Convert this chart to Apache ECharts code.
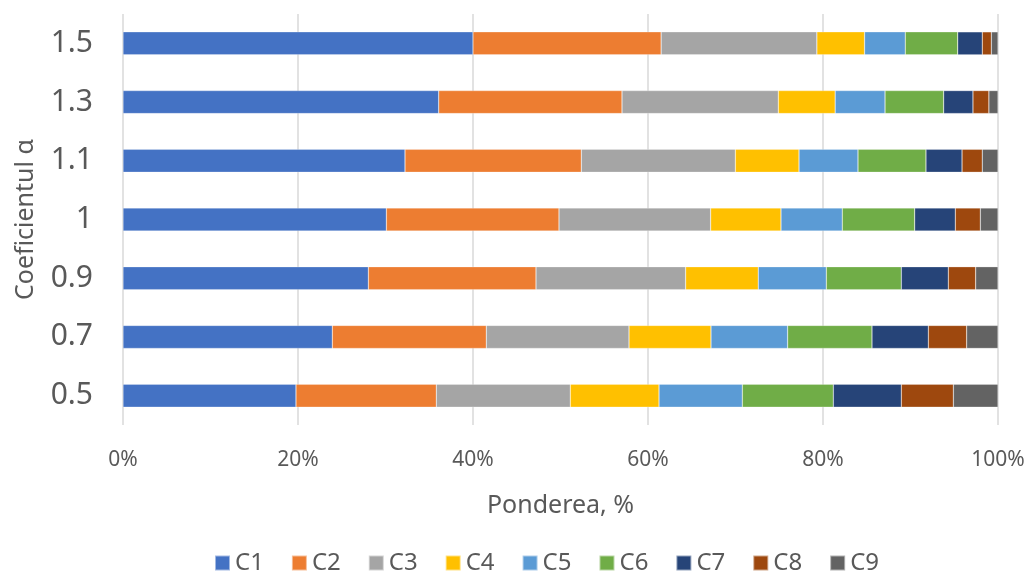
<!DOCTYPE html>
<html>
<head>
<meta charset="utf-8">
<script src="https://cdn.jsdelivr.net/npm/echarts@6/dist/echarts.min.js"></script>
<style>
    html, body { margin: 0; padding: 0; background: #fff; }
    #chart { width: 1033px; height: 574px; }
</style>
</head>
<body>
<div id="chart"></div>
<script>
// categories (bottom to top)
var alphaValues = ['0.5', '0.7', '0.9', '1', '1.1', '1.3', '1.5'];
var seriesNames = ['C1', 'C2', 'C3', 'C4', 'C5', 'C6', 'C7', 'C8', 'C9'];
// shares in %, per alpha (same order as alphaValues)
var c1 = [19.77, 23.92, 28.04, 30.10, 32.23, 36.08, 40.00];
var c2 = [16.04, 17.60, 19.16, 19.73, 20.15, 20.95, 21.50];
var c3 = [15.31, 16.31, 17.10, 17.33, 17.60, 17.86, 17.80];
var c4 = [10.14, 9.37, 8.30, 8.04, 7.28, 6.50, 5.45];
var c5 = [9.52, 8.76, 7.78, 7.00, 6.74, 5.70, 4.65];
var c6 = [10.40, 9.64, 8.57, 8.28, 7.77, 6.70, 6.00];
var c7 = [7.77, 6.44, 5.37, 4.64, 4.12, 3.35, 2.80];
var c8 = [5.95, 4.38, 3.13, 2.86, 2.31, 1.82, 1.04];
var c9 = [5.10, 3.58, 2.55, 2.02, 1.80, 1.04, 0.76];
var seriesValues = [c1, c2, c3, c4, c5, c6, c7, c8, c9];
var colors = ['#4472C4', '#ED7D31', '#A5A5A5', '#FFC000', '#5B9BD5', '#70AD47', '#264478', '#9E480E', '#636363'];

var myEchart = echarts.init(document.getElementById('chart'));
var textColor = '#595959';
var fontName = 'Noto Sans';

var series = [];
seriesNames.forEach(function(name, i) {
    series.push({
        name: name,
        type: 'bar',
        stack: 'total',
        barWidth: 23,
        data: seriesValues[i],
        itemStyle: {
            color: colors[i],
            borderColor: 'rgba(255,255,255,0.5)',
            borderWidth: 0.5
        }
    });
});

var option = {
    animation: false,
    color: colors,
    textStyle: { fontFamily: fontName },
    grid: {
        left: 123,
        right: 35,
        top: 14,
        bottom: 149
    },
    legend: {
        top: 546,
        left: 209,
        itemWidth: 15,
        itemHeight: 15,
        itemGap: 27,
        icon: 'rect',
        textStyle: {
            color: textColor,
            fontSize: 24,
            fontFamily: fontName
        },
        data: seriesNames
    },
    xAxis: {
        type: 'value',
        min: 0,
        max: 100,
        interval: 20,
        name: 'Ponderea, %',
        nameLocation: 'middle',
        nameGap: 68,
        nameTextStyle: {
            color: textColor,
            fontSize: 25,
            fontFamily: fontName
        },
        axisLine: { show: false },
        axisTick: { show: false },
        axisLabel: {
            color: textColor,
            fontSize: 21,
            margin: 25,
            formatter: '{value}%'
        },
        splitLine: {
            show: true,
            lineStyle: {
                color: '#d9d9d9',
                width: 1.5
            }
        }
    },
    yAxis: {
        type: 'category',
        data: alphaValues,
        name: 'Coeficientul α',
        nameLocation: 'middle',
        nameGap: 85,
        nameRotate: 90,
        nameTextStyle: {
            color: textColor,
            fontSize: 25,
            fontFamily: fontName
        },
        axisLine: { show: false },
        axisTick: { show: false },
        axisLabel: {
            color: textColor,
            fontSize: 30,
            margin: 30
        }
    },
    series: series
};
myEchart.setOption(option);
</script>
</body>
</html>
